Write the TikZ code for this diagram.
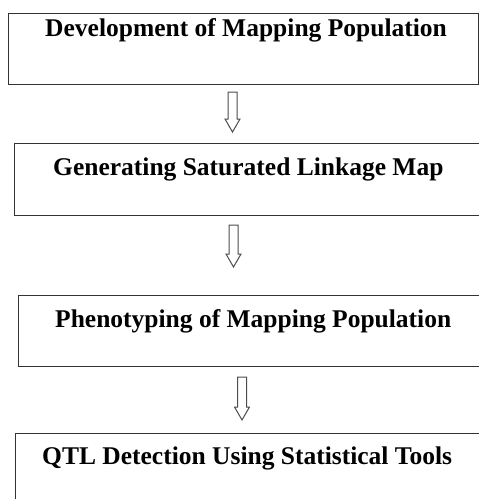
\documentclass[tikz,border=0pt]{standalone}
\usepackage{fontspec}
\setmainfont{Liberation Serif}
\usetikzlibrary{calc}
\usetikzlibrary{positioning}
\newcommand{\hollowarrow}[2]% top of shaft, tip
{($(#1)+(-4.5,0)$) -- ($(#2)+(-4.5,-13)$) -- ($(#2)+(-7.5,-13)$) -- (#2)
 -- ($(#2)+(7.5,-13)$) -- ($(#2)+(4.5,-13)$) -- ($(#1)+(4.5,0)$) -- cycle
}
\tikzset{
  stagebox/.style={draw=black!80, line width=1.2pt, rectangle, anchor=north west, inner sep=0pt},
  stagetext/.style={anchor=base west, inner sep=0pt, font=\fontsize{25.5}{30}\selectfont\bfseries},
  arrowline/.style={draw=black!70, line width=1pt, fill=white}
}

\begin{document}
\begin{tikzpicture}[x=1pt,y=-1pt]
	\useasboundingbox (0,0) rectangle (479,499);
	\clip (0,0) rectangle (479,499);
	% boxes
	\node[stagebox, minimum width=470, minimum height=71] (dev) at (8,13) {};
	\node[stagebox, minimum width=480, minimum height=72] (gen) at (13.5,143) {};
	\node[stagebox, minimum width=480, minimum height=70.5] (phe) at (17.7,295) {};
	\node[stagebox, minimum width=480, minimum height=80] (qtl) at (15,433) {};
	% texts
	\node[stagetext] (devtext) at (45,36.5) {Development of Mapping Population};
	\node[stagetext] (gentext) at (53,175.5) {Generating Saturated Linkage Map};
	\node[stagetext] (phetext) at (55,327) {Phenotyping of Mapping Population};
	\node[stagetext] (qtltext) at (42,464) {QTL Detection Using Statistical Tools};
	% arrows
	\coordinate (a1top) at (232.5,92);
	\coordinate (a1tip) at (232.5,132);
	\coordinate (a2top) at (233.5,225);
	\coordinate (a2tip) at (233.5,267);
	\coordinate (a3top) at (242,377);
	\coordinate (a3tip) at (242,420);
	\draw[arrowline] \hollowarrow{a1top}{a1tip};
	\draw[arrowline] \hollowarrow{a2top}{a2tip};
	\draw[arrowline] \hollowarrow{a3top}{a3tip};
\end{tikzpicture}
\end{document}
